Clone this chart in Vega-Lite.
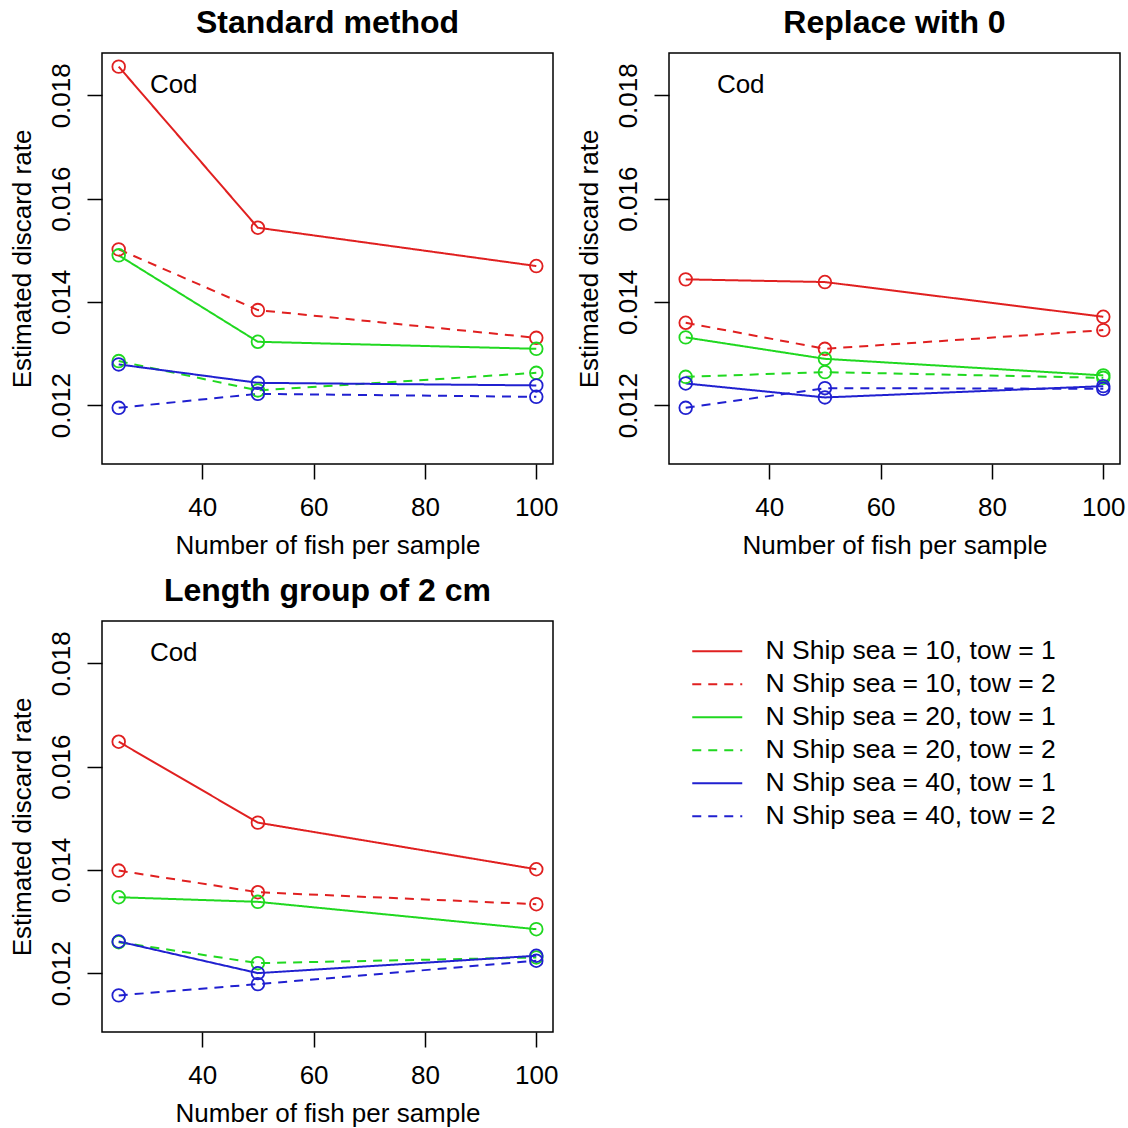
{
  "$schema": "https://vega.github.io/schema/vega-lite/v6.json",
  "background": "white",
  "padding": {"left": 8, "top": 6, "right": 0, "bottom": 0},
  "datasets": {
    "rates": [
      {"panel": "Standard method", "ships": 10, "series": "N Ship sea = 10, tow = 1", "n": 25, "rate": 0.018556},
      {"panel": "Standard method", "ships": 10, "series": "N Ship sea = 10, tow = 1", "n": 50, "rate": 0.015436},
      {"panel": "Standard method", "ships": 10, "series": "N Ship sea = 10, tow = 1", "n": 100, "rate": 0.014694},
      {"panel": "Standard method", "ships": 10, "series": "N Ship sea = 10, tow = 2", "n": 25, "rate": 0.015017},
      {"panel": "Standard method", "ships": 10, "series": "N Ship sea = 10, tow = 2", "n": 50, "rate": 0.013841},
      {"panel": "Standard method", "ships": 10, "series": "N Ship sea = 10, tow = 2", "n": 100, "rate": 0.013304},
      {"panel": "Standard method", "ships": 20, "series": "N Ship sea = 20, tow = 1", "n": 25, "rate": 0.014901},
      {"panel": "Standard method", "ships": 20, "series": "N Ship sea = 20, tow = 1", "n": 50, "rate": 0.013227},
      {"panel": "Standard method", "ships": 20, "series": "N Ship sea = 20, tow = 1", "n": 100, "rate": 0.013091},
      {"panel": "Standard method", "ships": 20, "series": "N Ship sea = 20, tow = 2", "n": 25, "rate": 0.012853},
      {"panel": "Standard method", "ships": 20, "series": "N Ship sea = 20, tow = 2", "n": 50, "rate": 0.012285},
      {"panel": "Standard method", "ships": 20, "series": "N Ship sea = 20, tow = 2", "n": 100, "rate": 0.012626},
      {"panel": "Standard method", "ships": 40, "series": "N Ship sea = 40, tow = 1", "n": 25, "rate": 0.012789},
      {"panel": "Standard method", "ships": 40, "series": "N Ship sea = 40, tow = 1", "n": 50, "rate": 0.012432},
      {"panel": "Standard method", "ships": 40, "series": "N Ship sea = 40, tow = 1", "n": 100, "rate": 0.012382},
      {"panel": "Standard method", "ships": 40, "series": "N Ship sea = 40, tow = 2", "n": 25, "rate": 0.011948},
      {"panel": "Standard method", "ships": 40, "series": "N Ship sea = 40, tow = 2", "n": 50, "rate": 0.012219},
      {"panel": "Standard method", "ships": 40, "series": "N Ship sea = 40, tow = 2", "n": 100, "rate": 0.012161},
      {"panel": "Replace with 0", "ships": 10, "series": "N Ship sea = 10, tow = 1", "n": 25, "rate": 0.014436},
      {"panel": "Replace with 0", "ships": 10, "series": "N Ship sea = 10, tow = 1", "n": 50, "rate": 0.014384},
      {"panel": "Replace with 0", "ships": 10, "series": "N Ship sea = 10, tow = 1", "n": 100, "rate": 0.013711},
      {"panel": "Replace with 0", "ships": 10, "series": "N Ship sea = 10, tow = 2", "n": 25, "rate": 0.013595},
      {"panel": "Replace with 0", "ships": 10, "series": "N Ship sea = 10, tow = 2", "n": 50, "rate": 0.013091},
      {"panel": "Replace with 0", "ships": 10, "series": "N Ship sea = 10, tow = 2", "n": 100, "rate": 0.013453},
      {"panel": "Replace with 0", "ships": 20, "series": "N Ship sea = 20, tow = 1", "n": 25, "rate": 0.013312},
      {"panel": "Replace with 0", "ships": 20, "series": "N Ship sea = 20, tow = 1", "n": 50, "rate": 0.012897},
      {"panel": "Replace with 0", "ships": 20, "series": "N Ship sea = 20, tow = 1", "n": 100, "rate": 0.012576},
      {"panel": "Replace with 0", "ships": 20, "series": "N Ship sea = 20, tow = 2", "n": 25, "rate": 0.012548},
      {"panel": "Replace with 0", "ships": 20, "series": "N Ship sea = 20, tow = 2", "n": 50, "rate": 0.01264},
      {"panel": "Replace with 0", "ships": 20, "series": "N Ship sea = 20, tow = 2", "n": 100, "rate": 0.012529},
      {"panel": "Replace with 0", "ships": 40, "series": "N Ship sea = 40, tow = 1", "n": 25, "rate": 0.01242},
      {"panel": "Replace with 0", "ships": 40, "series": "N Ship sea = 40, tow = 1", "n": 50, "rate": 0.012149},
      {"panel": "Replace with 0", "ships": 40, "series": "N Ship sea = 40, tow = 1", "n": 100, "rate": 0.012368},
      {"panel": "Replace with 0", "ships": 40, "series": "N Ship sea = 40, tow = 2", "n": 25, "rate": 0.011948},
      {"panel": "Replace with 0", "ships": 40, "series": "N Ship sea = 40, tow = 2", "n": 50, "rate": 0.012329},
      {"panel": "Replace with 0", "ships": 40, "series": "N Ship sea = 40, tow = 2", "n": 100, "rate": 0.012316},
      {"panel": "Length group of 2 cm", "ships": 10, "series": "N Ship sea = 10, tow = 1", "n": 25, "rate": 0.016482},
      {"panel": "Length group of 2 cm", "ships": 10, "series": "N Ship sea = 10, tow = 1", "n": 50, "rate": 0.014915},
      {"panel": "Length group of 2 cm", "ships": 10, "series": "N Ship sea = 10, tow = 1", "n": 100, "rate": 0.014012},
      {"panel": "Length group of 2 cm", "ships": 10, "series": "N Ship sea = 10, tow = 2", "n": 25, "rate": 0.013986},
      {"panel": "Length group of 2 cm", "ships": 10, "series": "N Ship sea = 10, tow = 2", "n": 50, "rate": 0.013567},
      {"panel": "Length group of 2 cm", "ships": 10, "series": "N Ship sea = 10, tow = 2", "n": 100, "rate": 0.013335},
      {"panel": "Length group of 2 cm", "ships": 20, "series": "N Ship sea = 20, tow = 1", "n": 25, "rate": 0.01347},
      {"panel": "Length group of 2 cm", "ships": 20, "series": "N Ship sea = 20, tow = 1", "n": 50, "rate": 0.013381},
      {"panel": "Length group of 2 cm", "ships": 20, "series": "N Ship sea = 20, tow = 1", "n": 100, "rate": 0.012851},
      {"panel": "Length group of 2 cm", "ships": 20, "series": "N Ship sea = 20, tow = 2", "n": 25, "rate": 0.0126},
      {"panel": "Length group of 2 cm", "ships": 20, "series": "N Ship sea = 20, tow = 2", "n": 50, "rate": 0.012193},
      {"panel": "Length group of 2 cm", "ships": 20, "series": "N Ship sea = 20, tow = 2", "n": 100, "rate": 0.012304},
      {"panel": "Length group of 2 cm", "ships": 40, "series": "N Ship sea = 40, tow = 1", "n": 25, "rate": 0.012613},
      {"panel": "Length group of 2 cm", "ships": 40, "series": "N Ship sea = 40, tow = 1", "n": 50, "rate": 0.012},
      {"panel": "Length group of 2 cm", "ships": 40, "series": "N Ship sea = 40, tow = 1", "n": 100, "rate": 0.012337},
      {"panel": "Length group of 2 cm", "ships": 40, "series": "N Ship sea = 40, tow = 2", "n": 25, "rate": 0.011569},
      {"panel": "Length group of 2 cm", "ships": 40, "series": "N Ship sea = 40, tow = 2", "n": 50, "rate": 0.011787},
      {"panel": "Length group of 2 cm", "ships": 40, "series": "N Ship sea = 40, tow = 2", "n": 100, "rate": 0.01224}
    ],
    "label": [{"name": "Cod"}]
  },
  "columns": 2,
  "bounds": "flush",
  "spacing": {"row": 157, "column": 116},
  "concat": [
    {
      "width": 451, "height": 411,
      "title": "Standard method",
      "layer": [
        {
          "data": {"name": "rates"},
          "transform": [{"filter": "datum.panel === 'Standard method'"}],
          "mark": {"type": "line", "strokeWidth": 2},
          "encoding": {
            "x": {"field": "n", "type": "quantitative", "scale": {"domain": [22, 103], "nice": false, "zero": false}, "axis": {"title": "Number of fish per sample", "values": [40, 60, 80, 100]}},
            "y": {"field": "rate", "type": "quantitative", "scale": {"domain": [0.01086, 0.01882], "nice": false, "zero": false}, "axis": {"title": "Estimated discard rate", "values": [0.012, 0.014, 0.016, 0.018], "format": ".3f"}},
            "color": {"field": "series", "type": "nominal", "title": null, "scale": {"domain": ["N Ship sea = 10, tow = 1", "N Ship sea = 10, tow = 2", "N Ship sea = 20, tow = 1", "N Ship sea = 20, tow = 2", "N Ship sea = 40, tow = 1", "N Ship sea = 40, tow = 2"], "range": ["#e02020", "#e02020", "#20d820", "#20d820", "#2020d0", "#2020d0"]}},
            "strokeDash": {"field": "series", "type": "nominal", "title": null, "scale": {"domain": ["N Ship sea = 10, tow = 1", "N Ship sea = 10, tow = 2", "N Ship sea = 20, tow = 1", "N Ship sea = 20, tow = 2", "N Ship sea = 40, tow = 1", "N Ship sea = 40, tow = 2"], "range": [[1, 0], [9, 7], [1, 0], [9, 7], [1, 0], [9, 7]]}}
          }
        },
        {
          "data": {"name": "rates"},
          "transform": [{"filter": "datum.panel === 'Standard method'"}],
          "mark": {"type": "point", "shape": "circle", "filled": false, "size": 160, "strokeWidth": 1.8, "opacity": 1},
          "encoding": {
            "x": {"field": "n", "type": "quantitative"},
            "y": {"field": "rate", "type": "quantitative"},
            "stroke": {"field": "ships", "type": "nominal", "legend": null, "scale": {"domain": [10, 20, 40], "range": ["#e02020", "#20d820", "#2020d0"]}}
          }
        },
        {
          "data": {"name": "label"},
          "mark": {"type": "text", "align": "left", "baseline": "middle", "fontSize": 26, "font": "Liberation Sans", "color": "black"},
          "encoding": {"x": {"datum": 30.6, "type": "quantitative"}, "y": {"datum": 0.0182, "type": "quantitative"}, "text": {"field": "name"}}
        }
      ]
    },
    {
      "width": 451, "height": 411,
      "title": "Replace with 0",
      "layer": [
        {
          "data": {"name": "rates"},
          "transform": [{"filter": "datum.panel === 'Replace with 0'"}],
          "mark": {"type": "line", "strokeWidth": 2},
          "encoding": {
            "x": {"field": "n", "type": "quantitative", "scale": {"domain": [22, 103], "nice": false, "zero": false}, "axis": {"title": "Number of fish per sample", "values": [40, 60, 80, 100]}},
            "y": {"field": "rate", "type": "quantitative", "scale": {"domain": [0.01086, 0.01882], "nice": false, "zero": false}, "axis": {"title": "Estimated discard rate", "values": [0.012, 0.014, 0.016, 0.018], "format": ".3f"}},
            "color": {"field": "series", "type": "nominal", "title": null, "scale": {"domain": ["N Ship sea = 10, tow = 1", "N Ship sea = 10, tow = 2", "N Ship sea = 20, tow = 1", "N Ship sea = 20, tow = 2", "N Ship sea = 40, tow = 1", "N Ship sea = 40, tow = 2"], "range": ["#e02020", "#e02020", "#20d820", "#20d820", "#2020d0", "#2020d0"]}},
            "strokeDash": {"field": "series", "type": "nominal", "title": null, "scale": {"domain": ["N Ship sea = 10, tow = 1", "N Ship sea = 10, tow = 2", "N Ship sea = 20, tow = 1", "N Ship sea = 20, tow = 2", "N Ship sea = 40, tow = 1", "N Ship sea = 40, tow = 2"], "range": [[1, 0], [9, 7], [1, 0], [9, 7], [1, 0], [9, 7]]}}
          }
        },
        {
          "data": {"name": "rates"},
          "transform": [{"filter": "datum.panel === 'Replace with 0'"}],
          "mark": {"type": "point", "shape": "circle", "filled": false, "size": 160, "strokeWidth": 1.8, "opacity": 1},
          "encoding": {
            "x": {"field": "n", "type": "quantitative"},
            "y": {"field": "rate", "type": "quantitative"},
            "stroke": {"field": "ships", "type": "nominal", "legend": null, "scale": {"domain": [10, 20, 40], "range": ["#e02020", "#20d820", "#2020d0"]}}
          }
        },
        {
          "data": {"name": "label"},
          "mark": {"type": "text", "align": "left", "baseline": "middle", "fontSize": 26, "font": "Liberation Sans", "color": "black"},
          "encoding": {"x": {"datum": 30.6, "type": "quantitative"}, "y": {"datum": 0.0182, "type": "quantitative"}, "text": {"field": "name"}}
        }
      ]
    },
    {
      "width": 451, "height": 411,
      "title": "Length group of 2 cm",
      "layer": [
        {
          "data": {"name": "rates"},
          "transform": [{"filter": "datum.panel === 'Length group of 2 cm'"}],
          "mark": {"type": "line", "strokeWidth": 2},
          "encoding": {
            "x": {"field": "n", "type": "quantitative", "scale": {"domain": [22, 103], "nice": false, "zero": false}, "axis": {"title": "Number of fish per sample", "values": [40, 60, 80, 100]}},
            "y": {"field": "rate", "type": "quantitative", "scale": {"domain": [0.01086, 0.01882], "nice": false, "zero": false}, "axis": {"title": "Estimated discard rate", "values": [0.012, 0.014, 0.016, 0.018], "format": ".3f"}},
            "color": {"field": "series", "type": "nominal", "title": null, "scale": {"domain": ["N Ship sea = 10, tow = 1", "N Ship sea = 10, tow = 2", "N Ship sea = 20, tow = 1", "N Ship sea = 20, tow = 2", "N Ship sea = 40, tow = 1", "N Ship sea = 40, tow = 2"], "range": ["#e02020", "#e02020", "#20d820", "#20d820", "#2020d0", "#2020d0"]}},
            "strokeDash": {"field": "series", "type": "nominal", "title": null, "scale": {"domain": ["N Ship sea = 10, tow = 1", "N Ship sea = 10, tow = 2", "N Ship sea = 20, tow = 1", "N Ship sea = 20, tow = 2", "N Ship sea = 40, tow = 1", "N Ship sea = 40, tow = 2"], "range": [[1, 0], [9, 7], [1, 0], [9, 7], [1, 0], [9, 7]]}}
          }
        },
        {
          "data": {"name": "rates"},
          "transform": [{"filter": "datum.panel === 'Length group of 2 cm'"}],
          "mark": {"type": "point", "shape": "circle", "filled": false, "size": 160, "strokeWidth": 1.8, "opacity": 1},
          "encoding": {
            "x": {"field": "n", "type": "quantitative"},
            "y": {"field": "rate", "type": "quantitative"},
            "stroke": {"field": "ships", "type": "nominal", "legend": null, "scale": {"domain": [10, 20, 40], "range": ["#e02020", "#20d820", "#2020d0"]}}
          }
        },
        {
          "data": {"name": "label"},
          "mark": {"type": "text", "align": "left", "baseline": "middle", "fontSize": 26, "font": "Liberation Sans", "color": "black"},
          "encoding": {"x": {"datum": 30.6, "type": "quantitative"}, "y": {"datum": 0.0182, "type": "quantitative"}, "text": {"field": "name"}}
        }
      ]
    }
  ],
  "resolve": {"scale": {"x": "independent", "y": "independent"}},
  "config": {
    "font": "Liberation Sans",
    "view": {"stroke": "black", "strokeWidth": 1.5, "fill": "white"},
    "title": {"fontSize": 32, "fontWeight": "bold", "font": "Liberation Sans", "color": "black", "baseline": "alphabetic", "offset": 13, "anchor": "middle"},
    "axis": {
      "grid": false, "domain": false, "ticks": true, "tickColor": "black", "tickSize": 15, "tickWidth": 1.5,
      "labelFont": "Liberation Sans", "labelFontSize": 26, "labelColor": "black",
      "titleFont": "Liberation Sans", "titleFontSize": 26, "titleFontWeight": "normal", "titleColor": "black"
    },
    "axisX": {"labelBaseline": "alphabetic", "labelPadding": 36, "labelFlush": false, "titleBaseline": "alphabetic", "titleY": 89, "titleX": 225.5, "titleAnchor": "middle"},
    "axisY": {"labelAngle": -90, "labelAlign": "center", "labelBaseline": "alphabetic", "labelPadding": 18, "labelFlush": false, "titleAngle": -90, "titleBaseline": "alphabetic", "titleX": -72, "titleY": 205.5, "titleAlign": "center"},
    "legend": {
      "orient": "none", "legendX": 602, "legendY": 585, "title": null,
      "symbolType": "M-5,0H5", "symbolSize": 100, "symbolStrokeWidth": 2, "symbolFillColor": "transparent",
      "labelFontSize": 26.5, "labelFont": "Liberation Sans", "labelColor": "black", "labelLimit": 0, "labelOffset": 35,
      "rowPadding": 6, "padding": 0
    }
  }
}
